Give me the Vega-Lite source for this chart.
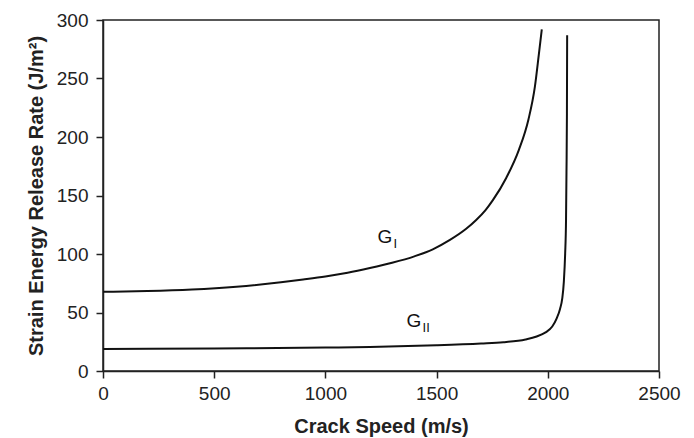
{
  "$schema": "https://vega.github.io/schema/vega-lite/v6.json",
  "autosize": "none",
  "padding": {"left": 103, "top": 20, "right": 35, "bottom": 67},
  "width": 556,
  "height": 351,
  "background": "white",
  "config": {
    "view": {"stroke": "#222", "strokeWidth": 1.5}
  },
  "datasets": {
    "curves": [
      {"series": "GI", "speed": 0, "G": 67.7},
      {"series": "GI", "speed": 200, "G": 68.3},
      {"series": "GI", "speed": 400, "G": 69.6},
      {"series": "GI", "speed": 600, "G": 72},
      {"series": "GI", "speed": 800, "G": 75.8},
      {"series": "GI", "speed": 900, "G": 78.2},
      {"series": "GI", "speed": 1000, "G": 80.8},
      {"series": "GI", "speed": 1100, "G": 84},
      {"series": "GI", "speed": 1200, "G": 88},
      {"series": "GI", "speed": 1300, "G": 92.5},
      {"series": "GI", "speed": 1400, "G": 98},
      {"series": "GI", "speed": 1483, "G": 104},
      {"series": "GI", "speed": 1560, "G": 112},
      {"series": "GI", "speed": 1633, "G": 121.5},
      {"series": "GI", "speed": 1678, "G": 129},
      {"series": "GI", "speed": 1720, "G": 137.5},
      {"series": "GI", "speed": 1753, "G": 146},
      {"series": "GI", "speed": 1813, "G": 165},
      {"series": "GI", "speed": 1870, "G": 189},
      {"series": "GI", "speed": 1913, "G": 215},
      {"series": "GI", "speed": 1942, "G": 243},
      {"series": "GI", "speed": 1960, "G": 271},
      {"series": "GI", "speed": 1973, "G": 292},
      {"series": "GII", "speed": 0, "G": 18.8},
      {"series": "GII", "speed": 500, "G": 19.2},
      {"series": "GII", "speed": 1000, "G": 20},
      {"series": "GII", "speed": 1200, "G": 20.6},
      {"series": "GII", "speed": 1500, "G": 22},
      {"series": "GII", "speed": 1700, "G": 23.5},
      {"series": "GII", "speed": 1800, "G": 24.6},
      {"series": "GII", "speed": 1900, "G": 27},
      {"series": "GII", "speed": 1950, "G": 29.5},
      {"series": "GII", "speed": 1990, "G": 33},
      {"series": "GII", "speed": 2020, "G": 38},
      {"series": "GII", "speed": 2040, "G": 45},
      {"series": "GII", "speed": 2055, "G": 53},
      {"series": "GII", "speed": 2065, "G": 62},
      {"series": "GII", "speed": 2072, "G": 76},
      {"series": "GII", "speed": 2078, "G": 100},
      {"series": "GII", "speed": 2082, "G": 130},
      {"series": "GII", "speed": 2084, "G": 170},
      {"series": "GII", "speed": 2086, "G": 220},
      {"series": "GII", "speed": 2087, "G": 287}
    ],
    "mainLabels": [
      {"text": "G", "speed": 1234, "G": 109},
      {"text": "G", "speed": 1365, "G": 37.4}
    ],
    "subLabels": [
      {"text": "I", "speed": 1306, "G": 105},
      {"text": "II", "speed": 1437, "G": 33.5}
    ]
  },
  "layer": [
    {
      "data": {"name": "curves"},
      "mark": {"type": "line", "color": "#111", "strokeWidth": 2, "interpolate": "monotone", "clip": true},
      "encoding": {
        "x": {
          "field": "speed", "type": "quantitative",
          "scale": {"domain": [0, 2500], "nice": false},
          "axis": {
            "values": [0, 500, 1000, 1500, 2000, 2500], "format": "d", "title": "Crack Speed (m/s)", "labelFlush": false,
            "grid": false, "domainColor": "#222", "domainWidth": 1.5, "tickColor": "#222", "tickWidth": 1.5, "tickSize": 7,
            "labelFont": "Liberation Sans", "labelFontSize": 19, "labelColor": "#222", "labelPadding": 6,
            "titleFont": "Liberation Sans", "titleFontSize": 20, "titleFontWeight": "bold", "titleColor": "#222", "titlePadding": 13
          }
        },
        "y": {
          "field": "G", "type": "quantitative",
          "scale": {"domain": [0, 300], "nice": false},
          "axis": {
            "values": [0, 50, 100, 150, 200, 250, 300], "format": "d", "title": "Strain Energy Release Rate (J/m²)", "labelFlush": false,
            "grid": false, "domainColor": "#222", "domainWidth": 1.5, "tickColor": "#222", "tickWidth": 1.5, "tickSize": 7,
            "labelFont": "Liberation Sans", "labelFontSize": 19, "labelColor": "#222", "labelPadding": 8,
            "titleFont": "Liberation Sans", "titleFontSize": 20, "titleFontWeight": "bold", "titleColor": "#222", "titlePadding": 10
          }
        },
        "detail": {"field": "series"}
      }
    },
    {
      "data": {"name": "mainLabels"},
      "mark": {"type": "text", "align": "left", "baseline": "alphabetic", "fontSize": 19, "color": "#111", "font": "Liberation Sans"},
      "encoding": {
        "x": {"field": "speed", "type": "quantitative"},
        "y": {"field": "G", "type": "quantitative"},
        "text": {"field": "text"}
      }
    },
    {
      "data": {"name": "subLabels"},
      "mark": {"type": "text", "align": "left", "baseline": "alphabetic", "fontSize": 13, "color": "#111", "font": "Liberation Sans"},
      "encoding": {
        "x": {"field": "speed", "type": "quantitative"},
        "y": {"field": "G", "type": "quantitative"},
        "text": {"field": "text"}
      }
    }
  ]
}
